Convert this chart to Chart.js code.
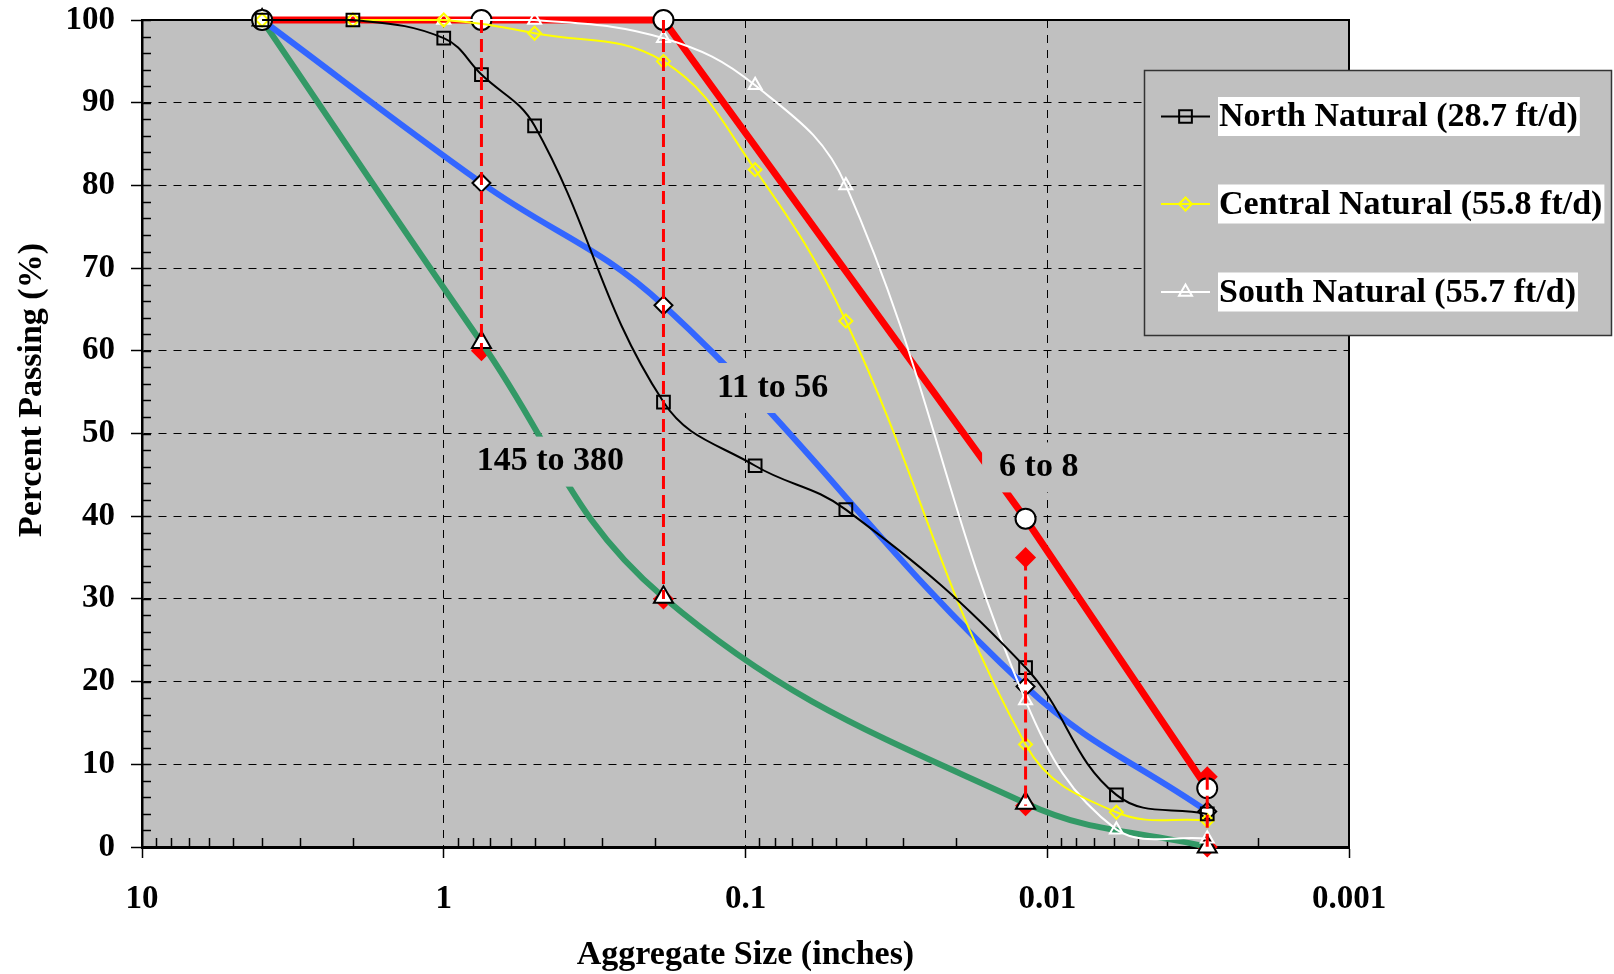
<!DOCTYPE html>
<html>
<head>
<meta charset="utf-8">
<title>Percent Passing vs Aggregate Size</title>
<script src="https://cdn.jsdelivr.net/npm/chart.js"></script>
<style>
  html, body { margin: 0; padding: 0; background: #ffffff; }
  #chart { display: block; }
</style>
</head>
<body>
<canvas id="chart" width="1614" height="974"></canvas>
<script>
// Natural gradations (sieve size in inches, percent passing)
const northSizes = [4, 2, 1, 0.75, 0.5, 0.187, 0.0929, 0.0465, 0.0118, 0.0059, 0.00295];
const northPassing = [100, 100, 97.8, 93.4, 87.2, 53.8, 46.1, 40.8, 21.7, 6.3, 4.0];
const naturalSizes = [4, 2, 1, 0.5, 0.187, 0.0929, 0.0465, 0.0118, 0.0059, 0.00295];
const centralPassing = [100, 100, 100, 98.4, 95.0, 81.9, 63.6, 12.4, 4.2, 3.2];
const southPassing = [100, 100, 100, 100, 97.8, 92.1, 80.0, 17.7, 2.1, 1.0];

// Design curves
const designSizes = [4, 0.75, 0.187, 0.0118, 0.00295];
const coarseCurve = [100, 100, 100, 39.7, 7.1];   // red  - 6 to 8
const middleCurve = [100, 80.3, 65.5, 19.4, 4.3]; // blue - 11 to 56
const fineCurve = [100, 61.0, 30.2, 5.3, 0];      // green - 145 to 380

// Limit bars (dashed red)
const limitSizes = [0.75, 0.187, 0.0118, 0.00295];
const limitUpper = [100, 100, 35, 8.5];
const limitLower = [60, 30, 5, 0];

const xTickValues = [10, 1, 0.1, 0.01, 0.001];
const xTickLabels = ['10', '1', '0.1', '0.01', '0.001'];
const seriesNames = ['North Natural (28.7 ft/d)', 'Central Natural (55.8 ft/d)', 'South Natural (55.7 ft/d)'];
const rangeLabels = ['145 to 380', '11 to 56', '6 to 8'];

const FONT = "'Liberation Serif', 'Times New Roman', serif";

function pts(xs, ys) {
    return xs.map((x, i) => ({ x: x, y: ys[i] }));
}

const datasets = [];

// dashed vertical limit lines, drawn on top
limitSizes.forEach((s, i) => {
    datasets.push({
        data: [{ x: s, y: limitUpper[i] }, { x: s, y: limitLower[i] }],
        borderColor: '#ff0000',
        borderWidth: 3,
        borderDash: [13, 6],
        pointRadius: 0,
        tension: 0,
        clip: false,
        order: 0
    });
});

// natural samples
datasets.push({
    label: seriesNames[0],
    data: pts(northSizes, northPassing),
    borderColor: '#000000',
    borderWidth: 2,
    pointStyle: 'rect',
    pointRadius: 9,
    pointBorderWidth: 2,
    pointBorderColor: '#000000',
    pointBackgroundColor: 'rgba(0,0,0,0)',
    tension: 0.4,
    clip: false,
    order: 1
});
datasets.push({
    label: seriesNames[1],
    data: pts(naturalSizes, centralPassing),
    borderColor: '#ffff00',
    borderWidth: 2,
    pointStyle: 'rectRot',
    pointRadius: 6.5,
    pointBorderWidth: 2,
    pointBorderColor: '#ffff00',
    pointBackgroundColor: 'rgba(0,0,0,0)',
    tension: 0.4,
    clip: false,
    order: 2
});
datasets.push({
    label: seriesNames[2],
    data: pts(naturalSizes, southPassing),
    borderColor: '#ffffff',
    borderWidth: 2,
    pointStyle: 'triangle',
    pointRadius: 7.5,
    pointBorderWidth: 2,
    pointBorderColor: '#ffffff',
    pointBackgroundColor: 'rgba(0,0,0,0)',
    tension: 0.4,
    clip: false,
    order: 3
});

// design curves
datasets.push({
    data: pts(designSizes, coarseCurve),
    borderColor: '#ff0000',
    borderWidth: 7,
    pointStyle: 'circle',
    pointRadius: 10,
    pointBorderWidth: 2,
    pointBorderColor: '#000000',
    pointBackgroundColor: '#ffffff',
    tension: 0,
    clip: false,
    order: 4
});
datasets.push({
    data: pts(designSizes, middleCurve),
    borderColor: '#3366ff',
    borderWidth: 6,
    pointStyle: 'rectRot',
    pointRadius: 9,
    pointBorderWidth: 2,
    pointBorderColor: '#000000',
    pointBackgroundColor: '#ffffff',
    tension: 0.4,
    clip: false,
    order: 5
});
datasets.push({
    data: pts(designSizes, fineCurve),
    borderColor: '#339966',
    borderWidth: 6,
    pointStyle: 'triangle',
    pointRadius: 11,
    pointBorderWidth: 2,
    pointBorderColor: '#000000',
    pointBackgroundColor: '#ffffff',
    tension: 0.4,
    clip: false,
    order: 6
});

// red limit markers, underneath everything
datasets.push({
    data: pts(limitSizes, limitUpper).concat(pts(limitSizes, limitLower)),
    showLine: false,
    pointStyle: 'rectRot',
    pointRadius: 10.5,
    pointBorderWidth: 0,
    pointBackgroundColor: '#ff0000',
    pointBorderColor: '#ff0000',
    clip: false,
    order: 7
});

// little marker painter for the legend
function drawMarker(ctx, style, x, y, r) {
    ctx.beginPath();
    if (style === 'rect') {
        const s = Math.SQRT1_2 * r;
        ctx.rect(x - s, y - s, 2 * s, 2 * s);
    } else if (style === 'rectRot') {
        ctx.moveTo(x - r, y);
        ctx.lineTo(x, y - r);
        ctx.lineTo(x + r, y);
        ctx.lineTo(x, y + r);
        ctx.closePath();
    } else if (style === 'triangle') {
        let a = 0;
        ctx.moveTo(x + Math.sin(a) * r, y - Math.cos(a) * r);
        a += 2 * Math.PI / 3;
        ctx.lineTo(x + Math.sin(a) * r, y - Math.cos(a) * r);
        a += 2 * Math.PI / 3;
        ctx.lineTo(x + Math.sin(a) * r, y - Math.cos(a) * r);
        ctx.closePath();
    }
    ctx.stroke();
}

// gray plot background
const plotBackground = {
    id: 'plotBackground',
    beforeDraw(chart) {
        const { ctx, chartArea } = chart;
        ctx.save();
        ctx.fillStyle = '#c0c0c0';
        ctx.fillRect(chartArea.left, chartArea.top, chartArea.right - chartArea.left, chartArea.bottom - chartArea.top);
        ctx.restore();
    }
};

// inside ticks + top/right frame
const frameAndMinorTicks = {
    id: 'frameAndMinorTicks',
    beforeDatasetsDraw(chart) {
        const { ctx, chartArea, scales } = chart;
        const { left, right, top, bottom } = chartArea;
        ctx.save();
        ctx.strokeStyle = '#000000';
        ctx.lineWidth = 1.5;
        ctx.beginPath();
        for (let v = 0; v <= 100; v += 2) {
            const y = Math.round(scales.y.getPixelForValue(v)) + 0.5;
            ctx.moveTo(left, y);
            ctx.lineTo(left + 9, y);
        }
        [1, 0.1, 0.01, 0.001].forEach(dec => {
            for (let m = 2; m <= 9; m++) {
                const v = m * dec;
                const x = Math.round(scales.x.getPixelForValue(v)) + 0.5;
                ctx.moveTo(x, bottom);
                ctx.lineTo(x, bottom - 9);
            }
        });
        ctx.stroke();
        ctx.lineWidth = 2;
        ctx.beginPath();
        ctx.moveTo(left, top);
        ctx.lineTo(right, top);
        ctx.lineTo(right, bottom);
        ctx.stroke();
        ctx.restore();
    }
};

// range labels, y title and legend
const overlays = {
    id: 'overlays',
    afterDatasetsDraw(chart) {
        const { ctx, scales } = chart;
        const anchors = [
            { x: 0.443, y: 46.6 },
            { x: 0.0813, y: 55.5 },
            { x: 0.01067, y: 45.9 }
        ];
        ctx.save();
        ctx.font = 'bold 34px ' + FONT;
        ctx.textBaseline = 'middle';
        ctx.textAlign = 'center';
        rangeLabels.forEach((txt, i) => {
            const px = scales.x.getPixelForValue(anchors[i].x);
            const py = scales.y.getPixelForValue(anchors[i].y);
            const w = ctx.measureText(txt).width;
            ctx.fillStyle = '#c0c0c0';
            ctx.fillRect(px - w / 2 - 17, py - 25, w + 34, 50);
            ctx.fillStyle = '#000000';
            ctx.fillText(txt, px, py);
        });
        ctx.restore();
    },
    afterDraw(chart) {
        const { ctx } = chart;
        ctx.save();
        // y axis title
        ctx.translate(32, 390);
        ctx.rotate(-Math.PI / 2);
        ctx.font = 'bold 34px ' + FONT;
        ctx.fillStyle = '#000000';
        ctx.textAlign = 'center';
        ctx.textBaseline = 'middle';
        ctx.fillText('Percent Passing (%)', 0, 0);
        ctx.restore();

        // legend box
        ctx.save();
        ctx.fillStyle = '#c0c0c0';
        ctx.fillRect(1144, 70, 468, 266);
        ctx.strokeStyle = '#333333';
        ctx.lineWidth = 1.5;
        ctx.strokeRect(1144.5, 70.5, 467, 265);
        const rows = [116.5, 204, 292];
        const styles = [
            { color: '#000000', shape: 'rect', r: 9 },
            { color: '#ffff00', shape: 'rectRot', r: 6.5 },
            { color: '#ffffff', shape: 'triangle', r: 7.5 }
        ];
        ctx.font = 'bold 34px ' + FONT;
        ctx.textBaseline = 'middle';
        ctx.textAlign = 'left';
        seriesNames.forEach((name, i) => {
            const y = rows[i];
            const st = styles[i];
            ctx.strokeStyle = st.color;
            ctx.lineWidth = 2;
            ctx.beginPath();
            ctx.moveTo(1161, y);
            ctx.lineTo(1210, y);
            ctx.stroke();
            drawMarker(ctx, st.shape, 1185.5, y, st.r);
            const w = ctx.measureText(name).width;
            ctx.fillStyle = '#ffffff';
            ctx.fillRect(1218, y - 19.5, w + 3, 39);
            ctx.fillStyle = '#000000';
            ctx.fillText(name, 1219, y + 1);
        });
        ctx.restore();
    }
};

new Chart(document.getElementById('chart'), {
    type: 'line',
    data: { datasets: datasets },
    plugins: [plotBackground, frameAndMinorTicks, overlays],
    options: {
        responsive: false,
        animation: false,
        devicePixelRatio: 1,
        layout: { padding: { top: 20, right: 265, bottom: 0, left: 0 } },
        plugins: {
            legend: { display: false },
            tooltip: { enabled: false }
        },
        elements: {
            point: { hoverRadius: 0 }
        },
        scales: {
            x: {
                type: 'logarithmic',
                reverse: true,
                min: 0.001,
                max: 10,
                afterBuildTicks: (scale) => {
                    scale.ticks = xTickValues.map(v => ({ value: v }));
                },
                afterFit: (scale) => {
                    scale.height = 127;
                    scale.paddingLeft = 0;
                    scale.paddingRight = 0;
                },
                ticks: {
                    autoSkip: false,
                    maxRotation: 0,
                    padding: 22,
                    color: '#000000',
                    font: { family: FONT, size: 33, weight: 'bold' },
                    callback: (v) => {
                        const i = xTickValues.indexOf(v);
                        return i >= 0 ? xTickLabels[i] : '';
                    }
                },
                grid: {
                    color: '#000000',
                    lineWidth: 1,
                    drawTicks: true,
                    tickLength: 11,
                    tickColor: '#000000',
                    tickWidth: 1.5
                },
                border: { display: true, color: '#000000', width: 3, dash: [8, 7] },
                title: {
                    display: true,
                    text: 'Aggregate Size (inches)',
                    color: '#000000',
                    font: { family: FONT, size: 34, weight: 'bold', lineHeight: 1.1 },
                    padding: { top: 0, bottom: 0 }
                }
            },
            y: {
                type: 'linear',
                min: 0,
                max: 100,
                afterFit: (scale) => {
                    scale.width = 142;
                    scale.paddingTop = 0;
                    scale.paddingBottom = 0;
                },
                ticks: {
                    stepSize: 10,
                    padding: 16,
                    color: '#000000',
                    font: { family: FONT, size: 33, weight: 'bold' }
                },
                grid: {
                    color: '#000000',
                    lineWidth: 1,
                    drawTicks: true,
                    tickLength: 11,
                    tickColor: '#000000',
                    tickWidth: 1.5
                },
                border: { display: true, color: '#000000', width: 2.5, dash: [8, 7] }
            }
        }
    }
});
</script>
</body>
</html>
